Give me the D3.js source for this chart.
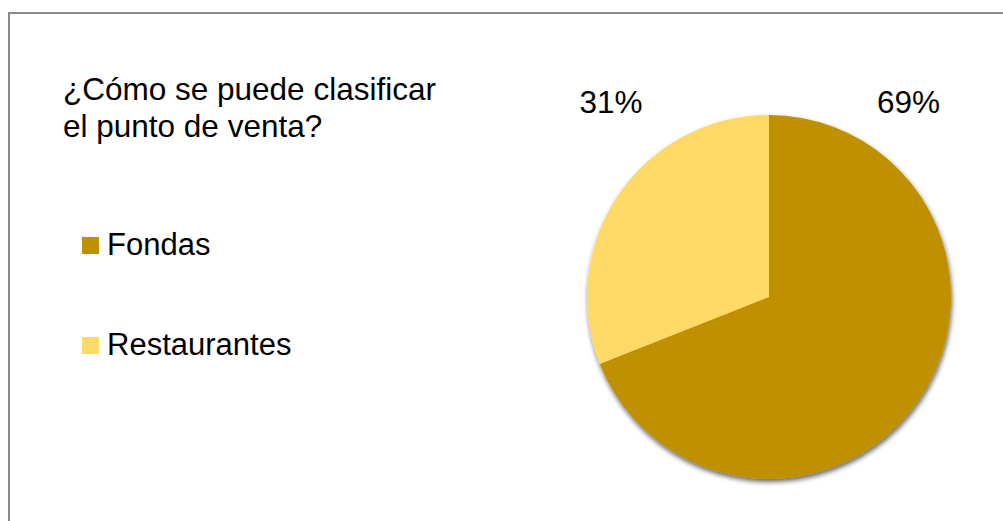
<!DOCTYPE html>
<html>
<head>
<meta charset="utf-8">
<script src="https://cdn.jsdelivr.net/npm/d3@7"></script>
<style>
  body { margin: 0; background: #fff; }
  text { font-family: "Liberation Sans", Arial, sans-serif; fill: #000; }
</style>
</head>
<body>
<svg id="chart" width="1003" height="521"></svg>
<script>
// data
var categories = ["Fondas", "Restaurantes"];
var values = [69, 31];
var labels = ["69%", "31%"];
var colors = ["#BF9000", "#FFD966"];
var titleLines = ["¿Cómo se puede clasificar", "el punto de venta?"];

var svg = d3.select("#chart");

// frame (right/bottom run off the picture)
svg.append("rect")
    .attr("x", 9).attr("y", 13)
    .attr("width", 1010).attr("height", 520)
    .attr("fill", "#fff")
    .attr("stroke", "#8a8a8a")
    .attr("stroke-width", 2);

// shadow for the pie
var defs = svg.append("defs");
var f = defs.append("filter").attr("id", "shadow")
    .attr("x", "-20%").attr("y", "-20%").attr("width", "140%").attr("height", "140%");
f.append("feDropShadow")
    .attr("dx", 1).attr("dy", 3)
    .attr("stdDeviation", 2.5)
    .attr("flood-color", "#000")
    .attr("flood-opacity", 0.6);

// title
svg.append("text")
    .attr("x", 63).attr("y", 100)
    .style("font-size", "31.5px")
    .selectAll("tspan")
    .data(titleLines)
  .enter().append("tspan")
    .attr("x", 63)
    .attr("dy", function(d, i) { return i ? 37 : 0; })
    .text(function(d) { return d; });

// legend
var legend = svg.selectAll("g.legend")
    .data(categories)
  .enter().append("g")
    .attr("class", "legend")
    .attr("transform", function(d, i) { return "translate(82," + (237 + i * 100) + ")"; });

legend.append("rect")
    .attr("width", 17).attr("height", 17)
    .attr("fill", function(d, i) { return colors[i]; });

legend.append("text")
    .attr("x", 25).attr("y", 18)
    .style("font-size", "31px")
    .text(function(d) { return d; });

// pie
var cx = 769, cy = 297, r = 182;

var pie = d3.pie().sort(null).value(function(d) { return d; });
var arcs = pie(values);
var arc = d3.arc().innerRadius(0).outerRadius(r);

var g = svg.append("g")
    .attr("transform", "translate(" + cx + "," + cy + ")");

g.append("g")
    .attr("filter", "url(#shadow)")
    .selectAll("path")
    .data(arcs)
  .enter().append("path")
    .attr("d", arc)
    .attr("fill", function(d, i) { return colors[i]; });

// percent labels sit in a row just above the pie, either side of the top
var labelDx = [0.767, -0.868];
g.selectAll("text.pct")
    .data(arcs)
  .enter().append("text")
    .attr("class", "pct")
    .attr("x", function(d, i) { return labelDx[i] * r; })
    .attr("y", -r - 2)
    .attr("text-anchor", "middle")
    .style("font-size", "31.5px")
    .text(function(d, i) { return labels[i]; });
</script>
</body>
</html>
